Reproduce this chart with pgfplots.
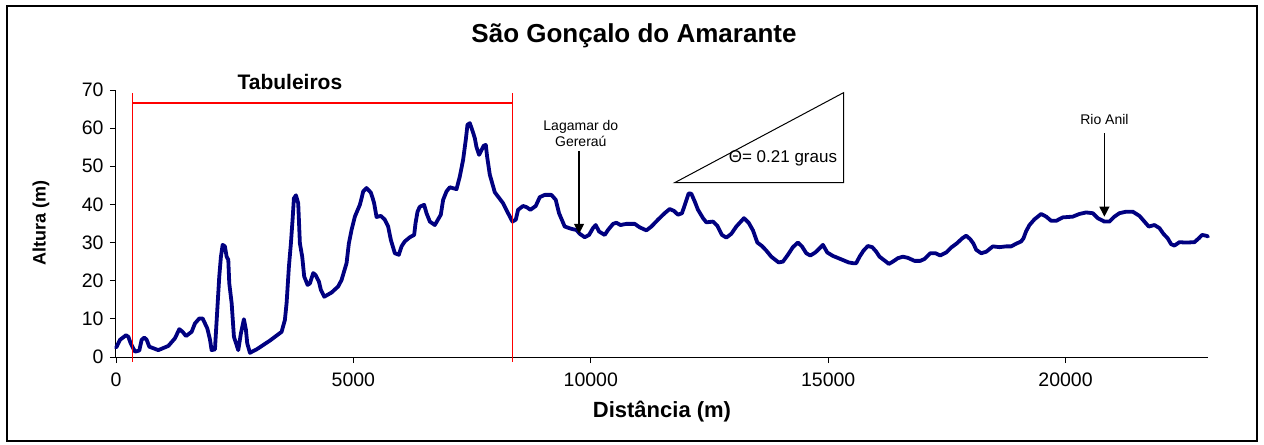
\documentclass[border=0pt]{standalone}
\usepackage{fontspec}
\setmainfont{Liberation Sans}
\usepackage{pgfplots}
\pgfplotsset{compat=1.18}
\usetikzlibrary{arrows.meta}
\definecolor{profile}{RGB}{0,0,128}
\pgfplotstableread{
d a
0 2.5
14 2.7
84 4.5
210 5.7
260 5.3
309 3.6
400 1.4
491 1.7
540 4.5
597 5.1
646 4.5
702 2.7
891 1.8
1102 2.9
1242 4.9
1333 7.3
1403 6.6
1474 5.5
1593 6.6
1663 8.8
1754 10.1
1825 10.1
1923 7.5
1979 4.6
2014 1.8
2084 2.0
2133 12.3
2175 21.1
2210 26.3
2246 29.4
2294 29.0
2330 26.3
2365 25.5
2386 19.3
2436 14.1
2484 5.3
2575 1.8
2631 6.2
2694 9.9
2737 7.1
2764 3.6
2821 1.1
2962 2.0
3242 4.3
3488 6.6
3557 9.7
3593 14.1
3642 23.7
3684 29.8
3719 36.0
3747 41.6
3790 42.4
3838 40.3
3873 29.8
3922 26.3
3964 21.1
4035 18.9
4084 19.3
4154 22.0
4203 21.5
4273 19.8
4315 17.6
4386 15.8
4540 16.9
4680 18.5
4751 20.2
4856 24.6
4905 29.8
4961 33.3
5031 36.8
5136 39.9
5172 41.6
5206 43.4
5277 44.3
5368 43.1
5417 41.2
5437 40.3
5488 36.7
5578 37.0
5662 36.0
5732 34.2
5789 30.7
5873 27.2
5957 26.8
6014 29.0
6083 30.3
6189 31.4
6280 32.0
6309 35.1
6351 38.1
6399 39.4
6490 39.9
6540 37.7
6610 35.5
6715 34.6
6841 37.3
6890 41.2
6961 43.4
7031 44.5
7172 44.0
7241 47.3
7311 51.7
7368 57.0
7403 60.9
7452 61.3
7501 59.6
7557 57.4
7593 55.0
7648 53.0
7746 55.4
7789 55.6
7816 52.6
7873 47.8
7978 43.2
8153 40.3
8258 37.7
8350 35.5
8420 36.0
8469 38.6
8574 39.6
8645 39.3
8729 38.6
8841 39.6
8925 41.9
9030 42.5
9171 42.5
9262 41.2
9331 37.7
9451 34.2
9592 33.6
9698 33.3
9767 32.3
9872 31.4
9963 32.0
10047 33.8
10104 34.6
10174 32.9
10293 32.0
10363 33.3
10469 34.9
10539 35.2
10624 34.6
10750 34.9
10925 34.9
11030 34.0
11171 33.2
11276 34.2
11415 36.0
11556 37.7
11662 38.8
11752 38.3
11836 37.3
11921 37.7
11992 40.3
12062 42.9
12118 42.8
12188 40.8
12258 38.6
12364 36.4
12434 35.3
12574 35.5
12666 34.4
12763 32.0
12855 31.3
12960 32.3
13065 34.2
13226 36.4
13325 35.2
13416 33.2
13508 30.0
13605 29.1
13697 27.9
13802 26.3
13956 24.8
14047 25.0
14152 26.8
14257 28.8
14362 30.0
14447 29.0
14539 27.2
14623 26.6
14729 27.4
14819 28.5
14889 29.4
14981 27.4
15100 26.5
15276 25.6
15430 24.8
15521 24.6
15591 24.6
15661 26.3
15745 27.9
15836 29.1
15928 28.8
16013 27.6
16082 26.3
16187 25.3
16278 24.4
16362 25.0
16467 25.9
16573 26.3
16678 26.0
16819 25.2
16939 25.2
17029 25.7
17149 27.2
17261 27.2
17359 26.6
17486 27.4
17591 28.7
17710 29.8
17823 31.1
17907 31.8
17991 30.9
18061 29.7
18118 28.1
18224 27.2
18329 27.6
18468 29.0
18608 28.8
18749 29.0
18854 29.0
18959 29.7
19065 30.3
19113 31.1
19170 33.0
19240 34.6
19345 36.1
19486 37.5
19592 36.8
19697 35.7
19802 35.7
19941 36.6
20152 36.8
20292 37.5
20433 37.9
20573 37.7
20678 36.4
20818 35.5
20924 35.5
21029 36.8
21134 37.7
21275 38.1
21415 38.1
21556 37.0
21661 35.5
21752 34.2
21872 34.6
21977 33.8
22061 32.3
22152 31.1
22222 29.6
22292 29.2
22397 30.1
22538 30.0
22713 30.1
22804 31.1
22875 32.0
22959 31.8
23000 31.6
}\profiletable
\begin{document}
\begin{tikzpicture}
\useasboundingbox (-116bp,-88bp) rectangle (1148bp,357bp);
\draw[line width=1.5bp] (-109bp,-84bp) rectangle (1141bp,351bp);
\begin{axis}[
  scale only axis, width=1092bp, height=267bp,
  at={(0,0)}, anchor=south west,
  xmin=0, xmax=23000, ymin=0, ymax=70,
  axis x line*=bottom, axis y line*=left,
  axis line style={line width=1bp},
  xtick={0,5000,10000,15000,20000},
  ytick={0,10,20,30,40,50,60,70},
  tick align=outside, major tick length=6bp,
  tick style={line width=0.8bp, black},
  scaled x ticks=false,
  /pgf/number format/1000 sep={},
  /pgf/number format/assume math mode=true,
  ticklabel style={font=\fontsize{19.5bp}{22bp}\selectfont},
  xticklabel style={yshift=-6bp},
  yticklabel style={xshift=-3bp},
  clip=false,
]
\addplot[profile, line width=3.8bp, line join=round, line cap=round] table[x=d, y=a] {\profiletable};
% red bracket for Tabuleiros
\draw[red, line width=1.6bp] (axis cs:350,-1.2) -- (axis cs:350,69.2);
\draw[red, line width=1.6bp] (axis cs:8350,-1.2) -- (axis cs:8350,69.2);
\draw[red, line width=1.6bp] (axis cs:350,66.6) -- (axis cs:8350,66.6);
\node[font=\bfseries\fontsize{21bp}{24bp}\selectfont] at (axis cs:3663,72.0) {Tabuleiros};
% triangle
\draw[black, line width=1bp] (axis cs:11767,45.7) -- (axis cs:15324,45.7) -- (axis cs:15324,69.3) -- cycle;
\node[font=\fontsize{17bp}{20bp}\selectfont] at (axis cs:14047,52.1) {Θ= 0.21 graus};
% Lagamar
\node[font=\fontsize{14bp}{16.5bp}\selectfont, align=center] at (axis cs:9790,58.6) {Lagamar do\\Gereraú};
\draw[black, line width=1.2bp, -{Triangle[length=10bp,width=10bp]}] (axis cs:9753,53.9) -- (axis cs:9753,32.3);
% Rio Anil
\node[font=\fontsize{14bp}{16.5bp}\selectfont] at (axis cs:20818,62.2) {Rio Anil};
\draw[black, line width=1.2bp, -{Triangle[length=10bp,width=10bp]}] (axis cs:20818,58.7) -- (axis cs:20818,36.8);
\end{axis}
\node[font=\bfseries\fontsize{26bp}{29bp}\selectfont] at (518bp,321bp) {São Gonçalo do Amarante};
\node[font=\bfseries\fontsize{22bp}{25bp}\selectfont] at (546bp,-55bp) {Distância (m)};
\node[font=\bfseries\fontsize{18bp}{21bp}\selectfont, rotate=90] at (-75bp,134bp) {Altura (m)};
\end{tikzpicture}
\end{document}
